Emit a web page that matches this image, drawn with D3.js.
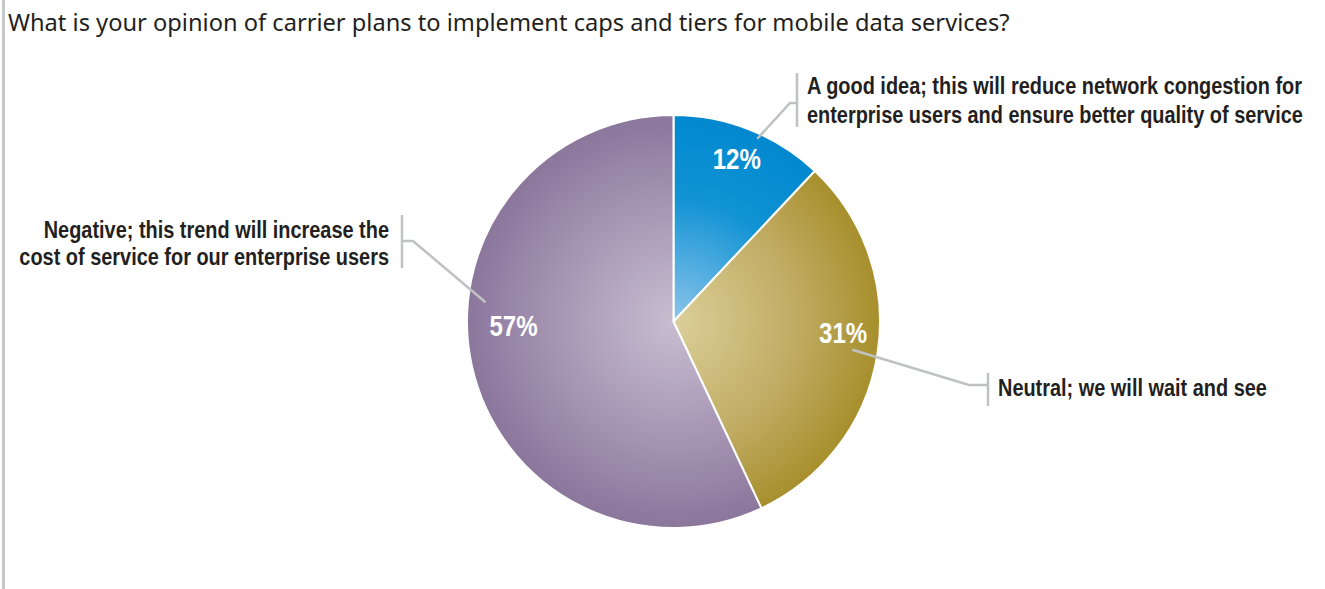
<!DOCTYPE html>
<html>
<head>
<meta charset="utf-8">
<script src="https://cdn.jsdelivr.net/npm/d3@7"></script>
<style>
  body { margin: 0; background: #fff; }
  svg { display: block; }
</style>
</head>
<body>
<svg id="chart" width="1325" height="589"></svg>
<script>
// ---- data ----
const question = "What is your opinion of carrier plans to implement caps and tiers for mobile data services?";
const categories = ["A good idea", "Neutral", "Negative"];
const values = [12, 31, 57];
const valueLabels = ["12%", "31%", "57%"];
const categoryLines = [
  ["A good idea; this will reduce network congestion for", "enterprise users and ensure better quality of service"],
  ["Neutral; we will wait and see"],
  ["Negative; this trend will increase the", "cost of service for our enterprise users"]
];

// ---- styling / layout ----
const W = 1325, H = 589;
const boldFace = "'Liberation Sans', Arial, sans-serif";
const textColor = "#231f20";
const leaderColor = "#bfc1c4";
const palettes = [
  { inner: "#8dc4ea", mid: "#1193d4", outer: "#0088cf" },
  { inner: "#dbcf99", mid: "#c0ab62", outer: "#a78f2c" },
  { inner: "#c7bdd0", mid: "#a493b2", outer: "#8b769c" }
];
const pieCenter = { x: 673.5, y: 321.5 };
const pieRadius = 206.5;
// where inside each slice the value label sits (fraction of the slice's sweep, radius)
const valueLabelPos = [ { t: 0.49, r: 175 }, { t: 0.452, r: 170 }, { t: 0.555, r: 160 } ];
// leader line from slice to its callout
const callouts = [
  { t: 0.57, r: 201, elbow: [790, 103], bar: { x: 797, y1: 73, y2: 127 }, anchor: "start", tx: 807, baselines: [94, 123] },
  { t: 0.50, r: 181, elbow: [969, 385], bar: { x: 988, y1: 373, y2: 406 }, anchor: "start", tx: 998, baselines: [396] },
  { t: 0.59, r: 189, elbow: [413, 241], bar: { x: 402, y1: 215, y2: 268 }, anchor: "end", tx: 389, baselines: [238, 265] }
];
const labelSize = 24;     // callout type size
const valueSize = 29;     // percentage type size

const svg = d3.select("#chart");
svg.append("rect").attr("width", W).attr("height", H).attr("fill", "#fff");

// left frame rule
svg.append("line")
  .attr("x1", 3.5).attr("x2", 3.5).attr("y1", 0).attr("y2", H)
  .attr("stroke", "#c6c8ca").attr("stroke-width", 3);

// ---- question line ----
const q = svg.append("text")
  .attr("font-family", "'Noto Sans', 'Open Sans', sans-serif")
  .attr("fill", textColor).attr("font-size", 20)
  .attr("x", 8).attr("y", 31)
  .text(question);
{
  const w = q.node().getComputedTextLength();
  q.attr("font-size", 20 * 1002 / w);
}

// ---- pie ----
const defs = svg.append("defs");
palettes.forEach((p, i) => {
  const g = defs.append("radialGradient")
    .attr("id", "slice-grad-" + i)
    .attr("gradientUnits", "userSpaceOnUse")
    .attr("cx", 0).attr("cy", 0).attr("r", pieRadius);
  g.append("stop").attr("offset", 0).attr("stop-color", p.inner);
  g.append("stop").attr("offset", 0.6).attr("stop-color", p.mid);
  g.append("stop").attr("offset", 1).attr("stop-color", p.outer);
});

const pie = d3.pie().sort(null).value(d => d);
const arcs = pie(values);
const arc = d3.arc().innerRadius(0).outerRadius(pieRadius);

const gPie = svg.append("g").attr("transform", `translate(${pieCenter.x},${pieCenter.y})`);
gPie.selectAll("path.slice")
  .data(arcs)
  .join("path")
  .attr("class", "slice")
  .attr("d", arc)
  .attr("fill", (d, i) => `url(#slice-grad-${i})`)
  .attr("stroke", "#fff")
  .attr("stroke-width", 2)
  .attr("stroke-linejoin", "round");

const polar = (d, t, r) => {
  const a = d.startAngle + t * (d.endAngle - d.startAngle);
  return [pieCenter.x + r * Math.sin(a), pieCenter.y - r * Math.cos(a)];
};

// ---- leader lines + callout brackets ----
const gCall = svg.append("g");
arcs.forEach((d, i) => {
  const c = callouts[i];
  const start = polar(d, c.t, c.r);
  gCall.append("polyline")
    .attr("points", [start, c.elbow, [c.bar.x, c.elbow[1]]].map(p => p.join(",")).join(" "))
    .attr("fill", "none").attr("stroke", leaderColor).attr("stroke-width", 2.5);
  gCall.append("line")
    .attr("x1", c.bar.x).attr("x2", c.bar.x).attr("y1", c.bar.y1).attr("y2", c.bar.y2)
    .attr("stroke", leaderColor).attr("stroke-width", 2.5);
});

// ---- category labels (condensed by a horizontal squeeze) ----
const labelTexts = [];
arcs.forEach((d, i) => {
  const c = callouts[i];
  categoryLines[i].forEach((line, j) => {
    const g = svg.append("g").attr("data-x", c.tx).attr("data-y", c.baselines[j]);
    const t = g.append("text")
      .attr("font-family", boldFace).attr("font-weight", "bold")
      .attr("fill", textColor).attr("font-size", labelSize)
      .attr("text-anchor", c.anchor)
      .text(line);
    labelTexts.push({ g, t, x: c.tx, y: c.baselines[j] });
  });
});
// squeeze so the longest line spans its column
const squeeze = 496 / labelTexts[1].t.node().getComputedTextLength();
labelTexts.forEach(o => o.g.attr("transform", `translate(${o.x},${o.y}) scale(${squeeze},1)`));

// ---- value labels ----
arcs.forEach((d, i) => {
  const [x, y] = polar(d, valueLabelPos[i].t, valueLabelPos[i].r);
  svg.append("g")
    .attr("transform", `translate(${x},${y}) scale(${squeeze},1)`)
    .append("text")
    .attr("dy", "0.36em")
    .attr("text-anchor", "middle")
    .attr("font-family", boldFace).attr("font-weight", "bold")
    .attr("font-size", valueSize)
    .attr("fill", "#fff")
    .text(valueLabels[i]);
});
</script>
</body>
</html>
